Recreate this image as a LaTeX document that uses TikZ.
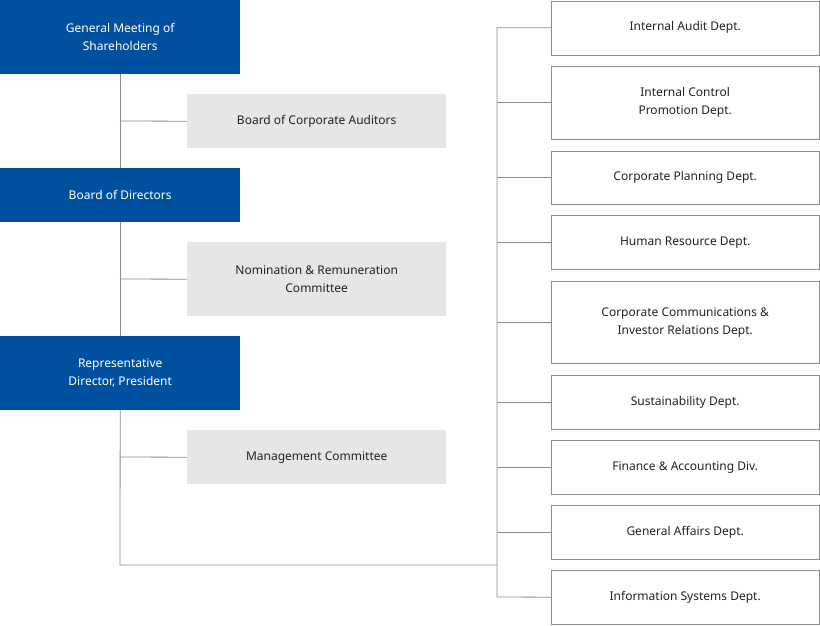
\documentclass[tikz,border=0pt]{standalone}
\usepackage{fontspec}
\setmainfont{Noto Sans}
\definecolor{blu}{HTML}{0050A0}
\definecolor{gr}{HTML}{E6E6E6}
\definecolor{ln}{HTML}{8C8C8C}
\definecolor{tx}{HTML}{222222}
\begin{document}
\begin{tikzpicture}[x=1pt,y=-1pt,
 bl/.style={fill=blu,text=white,minimum width=240pt,align=center,inner sep=0pt,anchor=north west,font=\fontsize{12}{18}\selectfont},
 gy/.style={fill=gr,text=tx,minimum width=259pt,align=center,inner sep=0pt,anchor=north west,font=\fontsize{12}{18}\selectfont},
 rb/.style={draw=ln,fill=white,text=tx,minimum width=268pt,align=center,inner sep=0pt,anchor=north west,font=\fontsize{12}{18}\selectfont},
 cn/.style={draw=ln,line width=0.8pt}]
\useasboundingbox (0,0) rectangle (820,625);
\node[bl,minimum height=74pt] (gm) at (0,0) {General Meeting of\\Shareholders};
\node[bl,minimum height=54pt] (bod) at (0,168) {Board of Directors};
\node[bl,minimum height=74pt] (rep) at (0,336) {Representative\\Director, President};
\node[gy,minimum height=54pt] (bca) at (187,94) {Board of Corporate Auditors};
\node[gy,minimum height=74pt] (nrc) at (187,242) {Nomination \& Remuneration\\Committee};
\node[gy,minimum height=54pt] (mc) at (187,430) {Management Committee};
\node[rb,minimum height=54pt] (r1) at (551,0.5) {Internal Audit Dept.};
\node[rb,minimum height=73pt] (r2) at (551,66) {Internal Control\\Promotion Dept.};
\node[rb,minimum height=53pt] (r3) at (551,151) {Corporate Planning Dept.};
\node[rb,minimum height=54pt] (r4) at (551,215) {Human Resource Dept.};
\node[rb,minimum height=82pt] (r5) at (551,281) {Corporate Communications \&\\Investor Relations Dept.};
\node[rb,minimum height=54pt] (r6) at (551,375) {Sustainability Dept.};
\node[rb,minimum height=54pt] (r7) at (551,440) {Finance \& Accounting Div.};
\node[rb,minimum height=54pt] (r8) at (551,505) {General Affairs Dept.};
\node[rb,minimum height=54pt] (r9) at (551,570) {Information Systems Dept.};
\coordinate (bot) at (120,565);
\coordinate (jn) at (497,565);
\draw[cn] (gm.south) -- (bod.north);
\draw[cn] (bod.south) -- (rep.north);
\draw[cn] (rep.south) -- (bot) -- (jn);
\draw[cn] (120,121) -- (bca.west);
\draw[cn] (120,279) -- (nrc.west);
\draw[cn] (120,457) -- (mc.west);
\draw[cn] (r1.west) -| (497,27) -- (497,597) -- (r9.west);
\foreach \r in {r2,r3,r4,r5,r6,r7,r8} \draw[cn] (r1.west -| 497,0) ++(0,0) (497,0 |- \r.west) -- (\r.west);
\end{tikzpicture}
\end{document}
